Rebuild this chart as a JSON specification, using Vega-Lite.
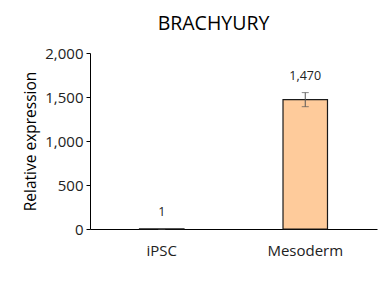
{
  "$schema": "https://vega.github.io/schema/vega-lite/v6.json",
  "width": 287,
  "height": 176,
  "autosize": {"type": "none"},
  "padding": {"left": 90, "top": 53, "right": 13, "bottom": 65},
  "background": "white",
  "title": {"text": "BRACHYURY", "fontSize": 19.5, "font": "Open Sans", "fontWeight": "normal", "color": "#000000", "dx": -20, "offset": 12},
  "data": {"values": [
    {"group": "iPSC", "value": 1, "err": 0, "label": "1"},
    {"group": "Mesoderm", "value": 1470, "err": 80, "label": "1,470"}
  ]},
  "transform": [
    {"calculate": "datum.value - datum.err", "as": "lower"},
    {"calculate": "datum.value + datum.err", "as": "upper"}
  ],
  "encoding": {
    "x": {"field": "group", "type": "nominal", "sort": null,
      "scale": {"paddingInner": 0, "paddingOuter": 0},
      "axis": {"title": null, "labelAngle": 0, "labelFontSize": 15, "labelFont": "Open Sans", "labelColor": "#222222", "ticks": false, "labelPadding": 14, "domainColor": "#000000", "domainWidth": 1.2}}
  },
  "layer": [
    {"mark": {"type": "bar", "width": {"band": 0.31}, "color": "#FECB9B", "stroke": "#1a1a1a", "strokeWidth": 1.2},
     "encoding": {"y": {"field": "value", "type": "quantitative", "title": "Relative expression",
       "scale": {"domain": [0, 2000]},
       "axis": {"titleFontSize": 15.5, "titleFont": "Open Sans", "titleFontWeight": "normal", "titleColor": "#000000", "titlePadding": 6,
         "values": [0, 500, 1000, 1500, 2000], "format": ",d", "labelFontSize": 15, "labelFont": "Open Sans", "labelColor": "#222222", "labelPadding": 3, "tickSize": 4, "tickColor": "#000000", "domainColor": "#000000", "grid": false}}}},
    {"mark": {"type": "errorbar", "ticks": {"width": 7, "color": "#555555"}, "rule": {"color": "#555555"}},
     "encoding": {"y": {"field": "lower", "type": "quantitative", "title": "Relative expression"}, "y2": {"field": "upper"}}},
    {"mark": {"type": "text", "fontSize": 12.5, "font": "Open Sans", "color": "#222222", "dy": -17},
     "encoding": {"y": {"field": "upper", "type": "quantitative", "title": "Relative expression"}, "text": {"field": "label"}}}
  ],
  "config": {"view": {"stroke": null}}
}
